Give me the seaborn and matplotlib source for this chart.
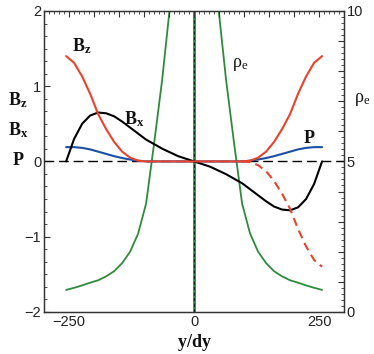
import matplotlib
matplotlib.use("Agg")
import matplotlib.pyplot as plt
import matplotlib.ticker as mticker
import numpy as np
import pandas as pd
import seaborn as sns

sns.set_theme(style="white")
plt.rcParams['font.family'] = ['Liberation Sans', 'DejaVu Sans']
plt.rcParams['mathtext.fontset'] = 'custom'
plt.rcParams['mathtext.bf'] = 'Liberation Serif:bold'
plt.rcParams['mathtext.rm'] = 'Liberation Serif'

# data
y_pos = [-256, -240, -224, -208, -192, -176, -160, -144, -128, -112, -96, -80, -64, -48, -32, -16,
         0, 16, 32, 48, 64, 80, 96, 112, 128, 144, 160, 176, 192, 208, 224, 240, 256]
bz = [1.40, 1.31, 1.13, 0.90, 0.63, 0.43, 0.26, 0.13, 0.05, 0.01, 0.0, 0.0, 0.0, 0.0, 0.0, 0.0,
      0.0, 0.0, 0.0, 0.0, 0.0, 0.0, 0.0, 0.01, 0.05, 0.13, 0.26, 0.43, 0.63, 0.90, 1.13, 1.31, 1.40]
bz_dash_pos = [96, 112, 128, 144, 160, 176, 192, 208, 224, 240, 256]
bz_dash = [0.0, -0.01, -0.05, -0.13, -0.26, -0.43, -0.63, -0.90, -1.13, -1.31, -1.40]
bx = [0.0, 0.30, 0.50, 0.61, 0.65, 0.64, 0.60, 0.53, 0.45, 0.37, 0.29, 0.23, 0.17, 0.12, 0.07, 0.035,
      0.0, -0.035, -0.07, -0.12, -0.17, -0.23, -0.29, -0.37, -0.45, -0.53, -0.60, -0.64, -0.65, -0.61,
      -0.50, -0.30, 0.0]
p = [0.19, 0.19, 0.18, 0.16, 0.13, 0.10, 0.07, 0.045, 0.025, 0.01, 0.0, 0.0, 0.0, 0.0, 0.0, 0.0,
     0.0, 0.0, 0.0, 0.0, 0.0, 0.0, 0.0, 0.01, 0.025, 0.045, 0.07, 0.10, 0.13, 0.16, 0.18, 0.19, 0.19]
rho_left_pos = [-256, -240, -224, -208, -192, -176, -160, -144, -128, -112, -96, -80, -64, -48, -32]
rho_left = [0.73, 0.80, 0.88, 0.97, 1.05, 1.18, 1.35, 1.62, 2.0, 2.6, 3.6, 5.6, 7.7, 10.2, 14.0]
rho_right_pos = [32, 48, 64, 80, 96, 112, 128, 144, 160, 176, 192, 208, 224, 240, 256]
rho_right = [14.0, 10.2, 7.7, 5.6, 3.6, 2.6, 2.0, 1.62, 1.35, 1.18, 1.05, 0.97, 0.88, 0.80, 0.73]

red = '#e8432d'
blue = '#1c4fa6'
green = '#2f8a3c'

fig = plt.figure(figsize=(3.74, 3.54), dpi=100)
ax = fig.add_axes([0.118, 0.119, 0.802, 0.850])
ax2 = ax.twinx()

rho_df = pd.DataFrame({
    'y': rho_left_pos + rho_right_pos,
    'rho': rho_left + rho_right,
    'branch': ['l'] * len(rho_left_pos) + ['r'] * len(rho_right_pos),
})
sns.lineplot(data=rho_df, x='y', y='rho', units='branch', estimator=None, ax=ax2,
             color=green, linewidth=1.3, sort=False)
ax2.axvline(0, color=green, linewidth=2.0)
ax2.axvline(0, color='#0a2a10', linewidth=0.8, linestyle=(0, (3, 2)))

ax.set_zorder(ax2.get_zorder() + 1)
ax.patch.set_visible(False)

ax.axhline(0, color='black', linewidth=1.0, linestyle=(0, (7, 3.5)), zorder=1)
sns.lineplot(x=y_pos, y=p, ax=ax, color=blue, linewidth=1.5)
sns.lineplot(x=y_pos, y=bx, ax=ax, color='black', linewidth=1.5)
sns.lineplot(x=bz_dash_pos, y=bz_dash, ax=ax, color=red, linewidth=1.5, linestyle=(0, (4, 2.5)))
sns.lineplot(x=y_pos, y=bz, ax=ax, color=red, linewidth=1.5)

ax.set_xlim(-300, 300)
ax.set_ylim(-2, 2)
ax2.set_ylim(0, 10)
ax.set_xlabel('')
ax.set_ylabel('')
ax2.set_ylabel('')

ax.xaxis.set_major_locator(mticker.MultipleLocator(50))
ax.xaxis.set_major_formatter(mticker.FuncFormatter(
    lambda v, _: ('\u2212' if v < 0 else '') + str(int(abs(v))) if abs(v) % 250 == 0 else ''))
ax.xaxis.set_minor_locator(mticker.MultipleLocator(10))
ax.yaxis.set_major_locator(mticker.MultipleLocator(1))
ax.yaxis.set_minor_locator(mticker.MultipleLocator(1 / 6))
ax2.yaxis.set_major_locator(mticker.MultipleLocator(1))
ax2.yaxis.set_major_formatter(mticker.FuncFormatter(
    lambda v, _: str(int(v)) if v % 5 == 0 else ''))
ax2.yaxis.set_minor_locator(mticker.MultipleLocator(0.2))

for a in (ax, ax2):
    a.tick_params(which='both', direction='in', color='#333333', labelsize=10.5,
                  labelcolor='#222222', pad=2)
    a.tick_params(which='major', length=4, width=0.8)
    a.tick_params(which='minor', length=2, width=0.6)
    for s in a.spines.values():
        s.set_color('#333333')
        s.set_linewidth(0.9)
ax.tick_params(axis='x', which='both', top=True)
ax.tick_params(axis='y', which='both', left=True, right=False)
ax2.tick_params(axis='y', which='both', right=True, left=False)

lab = dict(fontsize=13, color='#111111')
ax.text(-245, 1.47, r'$\mathbf{B_z}$', **lab)
ax.text(-141, 0.5, r'$\mathbf{B_x}$', **lab)
ax.text(217, 0.25, r'$\mathbf{P}$', **lab)
ax.text(75, 1.25, r'$\mathrm{\rho_e}$', **lab)

fig.text(0.048, 0.718, r'$\mathbf{B_z}$', ha='center', va='center', **lab)
fig.text(0.048, 0.632, r'$\mathbf{B_x}$', ha='center', va='center', **lab)
fig.text(0.048, 0.548, r'$\mathbf{P}$', ha='center', va='center', **lab)
fig.text(0.968, 0.72, r'$\mathrm{\rho_e}$', ha='center', va='center', **lab)
fig.text(0.519, 0.062, r'$\mathbf{y/dy}$', ha='center', va='top', **lab)

fig.savefig('out.png', dpi=100)
